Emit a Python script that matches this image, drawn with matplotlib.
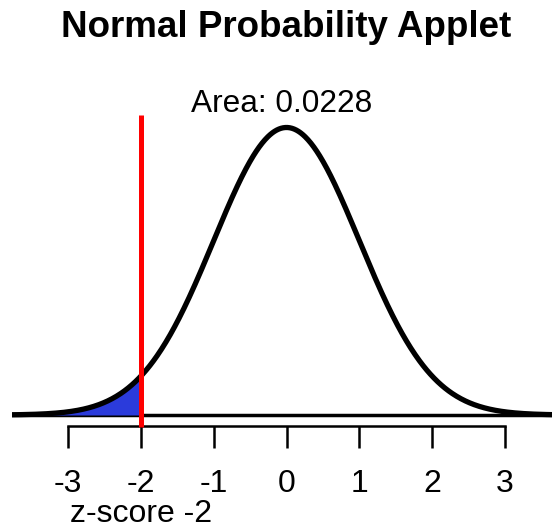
import numpy as np
import matplotlib
matplotlib.use("Agg")
import matplotlib.pyplot as plt
import matplotlib.transforms as mtransforms

# data
z_score = -2
area = 0.0228
tick_values = [-3, -2, -1, 0, 1, 2, 3]
x_range = [-4.5, 4.5]

x = np.linspace(x_range[0], x_range[1], 900)
density = np.exp(-x ** 2 / 2) / np.sqrt(2 * np.pi)

plt.rcParams['font.family'] = ['Liberation Sans', 'DejaVu Sans']

W, H = 552, 529
fig = plt.figure(figsize=(W / 100, H / 100), dpi=100)
# axes from pixel x=12 to the right edge, y=60 down to the axis line at y=426
ax = fig.add_axes([12 / W, 1 - 426 / H, 1 - 12 / W, 366 / H])

# zero at x=286.5 px, 72.8 px per unit; density zero at y=415 px, 720.7 px per unit
ax.set_xlim(-274.5 / 72.8, 265.5 / 72.8)
ax.set_ylim(-11 / 720.7, 355 / 720.7)

ax.axhline(0, color='black', lw=2.5, zorder=1)
shade = x <= z_score
ax.fill_between(x[shade], 0, density[shade], color='#2b3bdb', lw=0, zorder=2)
ax.plot(x, density, color='black', lw=3.8, zorder=3)
ax.plot([z_score, z_score], [-12 / 720.7, 300 / 720.7], color='#ff0000', lw=3.6,
        zorder=4, clip_on=False, solid_capstyle='butt')

for side in ['top', 'right', 'left']:
    ax.spines[side].set_visible(False)
ax.spines['bottom'].set_bounds(tick_values[0], tick_values[-1])
ax.spines['bottom'].set_linewidth(1.8)
ax.set_yticks([])
ax.set_xticks(tick_values)
ax.set_xticklabels([str(t) for t in tick_values])
ax.tick_params(axis='x', length=15.8, width=1.8, pad=15, labelsize=23)
ax.patch.set_alpha(0)

fig.text(286.5 / W, 1 - 37 / H, 'Normal Probability Applet', ha='center',
         va='baseline', fontsize=26.5, fontweight='bold')
fig.text(282 / W, 1 - 112 / H, f'Area: {area}', ha='center', va='baseline',
         fontsize=22.8)

trans = mtransforms.blended_transform_factory(ax.transData, fig.transFigure)
ax.text(z_score, 1 - 522 / H, f'z-score {z_score}', transform=trans, ha='center',
        va='baseline', fontsize=23, clip_on=False)

fig.savefig('out.png', dpi=100)
